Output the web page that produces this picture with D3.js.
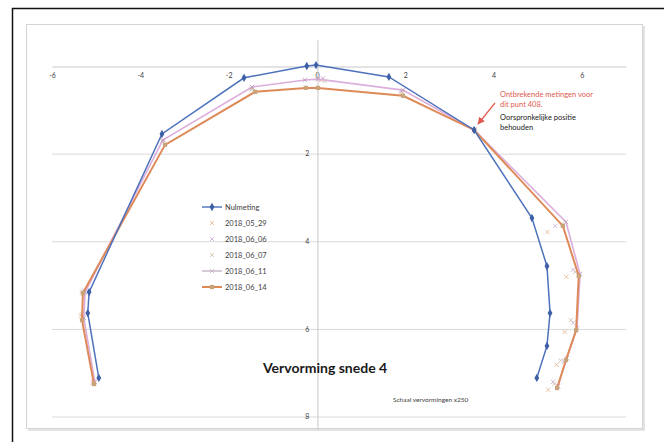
<!DOCTYPE html>
<html>
<head>
<meta charset="utf-8">
<script src="https://cdn.jsdelivr.net/npm/d3@7"></script>
<style>
  body { margin: 0; background: #fff; }
  svg { display: block; font-family: Lato, "Liberation Sans", sans-serif; }
</style>
</head>
<body>
<script>
// measured points, x = horizontal offset, y = depth (axis runs downwards)
var nulmeting = [[-4.94,7.12],[-5.19,5.64],[-5.16,5.16],[-3.51,1.55],[-1.65,0.27],[-0.23,0.0],[-0.02,-0.02],[1.63,0.25],[3.56,1.46],[4.87,3.47],[5.21,4.57],[5.28,5.64],[5.21,6.39],[4.98,7.12]];
var m0529 = [[-5.08,7.23],[-5.34,5.70],[-5.32,5.15],[-3.49,1.73],[-1.47,0.52],[0.10,0.32],[1.92,0.59],[3.56,1.46],[5.22,3.79],[5.65,4.81],[5.61,6.07],[5.43,6.82],[5.24,7.39]];
var m0606 = [[-5.06,7.20],[-5.30,5.72],[-5.28,5.12],[-3.47,1.70],[-1.45,0.50],[0.14,0.28],[1.90,0.57],[3.56,1.46],[5.40,3.65],[5.80,4.65],[5.80,5.86],[5.60,6.75],[5.35,7.21]];
var m0607 = [[-5.04,7.24],[-5.33,5.66],[-5.30,5.20],[-3.50,1.72],[-1.49,0.54],[0.18,0.34],[1.94,0.61],[3.56,1.46],[5.55,3.60],[5.85,4.70],[5.75,5.80],[5.52,6.72],[5.38,7.26]];
var m0611 = [[-5.03,7.21],[-5.28,5.75],[-5.25,5.16],[-3.49,1.69],[-1.47,0.48],[-0.27,0.32],[0.02,0.30],[1.95,0.55],[3.56,1.46],[5.64,3.56],[5.96,4.75],[5.89,5.98],[5.66,6.67],[5.46,7.31]];
var m0614 = [[-5.05,7.26],[-5.32,5.80],[-5.30,5.18],[-3.44,1.80],[-1.40,0.59],[-0.25,0.50],[0.02,0.50],[1.95,0.68],[3.56,1.46],[5.57,3.65],[5.93,4.79],[5.87,6.03],[5.64,6.71],[5.44,7.35]];

var seriesNames = ["Nulmeting", "2018_05_29", "2018_06_06", "2018_06_07", "2018_06_11", "2018_06_14"];
var xTicks = [-6, -4, -2, 0, 2, 4, 6];
var yTicks = [2, 4, 6, 8];

var W = 664, H = 442;
var svg = d3.select("body").append("svg").attr("width", W).attr("height", H);
svg.append("rect").attr("width", W).attr("height", H).attr("fill", "#fff");

// outer frame and chart box
svg.append("rect").attr("x", 12.5).attr("y", 8.5).attr("width", 700).attr("height", 500)
  .attr("fill", "none").attr("stroke", "#111").attr("stroke-width", 1.5);
svg.append("rect").attr("x", 28).attr("y", 26).attr("width", 617).attr("height", 405)
  .attr("fill", "#e4e4e4");
svg.append("rect").attr("x", 26.5).attr("y", 24.5).attr("width", 616).attr("height", 404)
  .attr("fill", "#fff").attr("stroke", "#d4d4d4");

var x = d3.scaleLinear().domain([-6, 7]).range([52, 626]);
var y = d3.scaleLinear().domain([0, 8]).range([66, 416.5]);

// gridlines
svg.append("g").selectAll("line").data(yTicks).enter().append("line")
  .attr("x1", x(-6)).attr("x2", x(7))
  .attr("y1", function(d) { return y(d) + 0.5; }).attr("y2", function(d) { return y(d) + 0.5; })
  .attr("stroke", "#d9d9d9");

// axes
var gx = svg.append("g").attr("transform", "translate(0," + (y(0) + 0.5) + ")")
  .call(d3.axisBottom(x).tickValues(xTicks).tickSize(0).tickPadding(7).tickFormat(d3.format("d")));
gx.select(".domain").attr("stroke", "#c8c8c8");
var gy = svg.append("g").attr("transform", "translate(" + (x(0) + 0.5) + ",0)")
  .call(d3.axisLeft(y.copy().domain([-0.6, 8.3]).range([y(-0.6), y(8.3)])).tickValues(yTicks).tickSize(0).tickPadding(8));
gy.select(".domain").attr("stroke", "#c8c8c8");
svg.selectAll(".tick text").attr("font-size", 7).attr("fill", "#404040")
  .attr("font-family", "Lato, sans-serif").text(function(d) { return d < 0 ? "-" + (-d) : d; });

var line = d3.line().x(function(d) { return x(d[0]); }).y(function(d) { return y(d[1]); });

var diamond = d3.symbol().type(d3.symbolDiamond).size(20);
var circ = d3.symbol().type(d3.symbolSquare).size(18);
var cross = d3.symbol().type(d3.symbolX).size(14);

// marker-only series
function markers(data, color) {
  svg.append("g").selectAll("path").data(data).enter().append("path")
    .attr("d", cross).attr("transform", function(d) { return "translate(" + x(d[0]) + "," + y(d[1]) + ")"; })
    .attr("fill", "none").attr("stroke", color).attr("stroke-width", 0.8);
}
markers(m0529, "#e2b48e");
markers(m0606, "#c7a9d6");
markers(m0607, "#cdbfa6");

// line series
svg.append("path").datum(m0611).attr("d", line).attr("fill", "none")
  .attr("stroke", "#dcaedc").attr("stroke-width", 1.6);
svg.append("g").selectAll("path").data(m0611).enter().append("path")
  .attr("d", cross).attr("transform", function(d) { return "translate(" + x(d[0]) + "," + y(d[1]) + ")"; })
  .attr("fill", "none").attr("stroke", "#b99ab8").attr("stroke-width", 0.8);

svg.append("path").datum(m0614).attr("d", line).attr("fill", "none")
  .attr("stroke", "#de8a58").attr("stroke-width", 2);
svg.append("g").selectAll("path").data(m0614).enter().append("path")
  .attr("d", circ).attr("transform", function(d) { return "translate(" + x(d[0]) + "," + y(d[1]) + ")"; })
  .attr("fill", "#c9a37a");

svg.append("path").datum(nulmeting).attr("d", line).attr("fill", "none")
  .attr("stroke", "#4d72bb").attr("stroke-width", 1.5);
svg.append("g").selectAll("path").data(nulmeting).enter().append("path")
  .attr("d", diamond).attr("transform", function(d) { return "translate(" + x(d[0]) + "," + y(d[1]) + ")"; })
  .attr("fill", "#3d5fa6");

// legend
var leg = svg.append("g").attr("transform", "translate(202,207)");
var legStyle = [
  {c: "#4d72bb", line: true, sym: diamond, fill: "#3d5fa6"},
  {c: "#e2b48e", line: false, sym: cross},
  {c: "#c7a9d6", line: false, sym: cross},
  {c: "#cdbfa6", line: false, sym: cross},
  {c: "#c4b4c4", line: true, sym: cross},
  {c: "#de8a58", line: true, sym: circ, fill: "#c9a37a"}
];
seriesNames.forEach(function(name, i) {
  var g = leg.append("g").attr("transform", "translate(0," + (i * 16) + ")");
  var s = legStyle[i];
  if (s.line) g.append("line").attr("x1", 0).attr("x2", 20).attr("stroke", s.c).attr("stroke-width", i == 5 ? 2 : 1.4);
  var m = g.append("path").attr("d", s.sym).attr("transform", "translate(10,0)");
  if (s.fill) m.attr("fill", s.fill); else m.attr("fill", "none").attr("stroke", s.c).attr("stroke-width", 0.8);
  g.append("text").attr("x", 23).attr("dy", "0.35em").attr("font-size", 7.5).attr("fill", "#404040").text(name);
});

// title and notes
svg.append("text").attr("x", 263).attr("y", 373).attr("font-size", 14).attr("font-weight", "bold")
  .attr("fill", "#1a1a1a").text("Vervorming snede 4");
svg.append("text").attr("x", 393).attr("y", 402).attr("font-size", 6.5).attr("fill", "#404040")
  .text("Schaal vervormingen x250");

var note = svg.append("g").attr("font-size", 7.5);
note.append("text").attr("x", 500).attr("y", 97).attr("fill", "#e05a4f").text("Ontbrekende metingen voor");
note.append("text").attr("x", 500).attr("y", 107).attr("fill", "#e05a4f").text("dit punt 408.");
note.append("text").attr("x", 500).attr("y", 120).attr("fill", "#222").text("Oorspronkelijke positie");
note.append("text").attr("x", 500).attr("y", 130).attr("fill", "#222").text("behouden");

svg.append("defs").append("marker").attr("id", "arr").attr("viewBox", "0 0 10 10")
  .attr("refX", 9).attr("refY", 5).attr("markerWidth", 6).attr("markerHeight", 6).attr("orient", "auto")
  .append("path").attr("d", "M0,0L10,5L0,10z").attr("fill", "#e05a4f");
svg.append("line").attr("x1", 495).attr("y1", 103).attr("x2", 478).attr("y2", 124)
  .attr("stroke", "#e05a4f").attr("stroke-width", 1.2).attr("marker-end", "url(#arr)");
</script>
</body>
</html>
